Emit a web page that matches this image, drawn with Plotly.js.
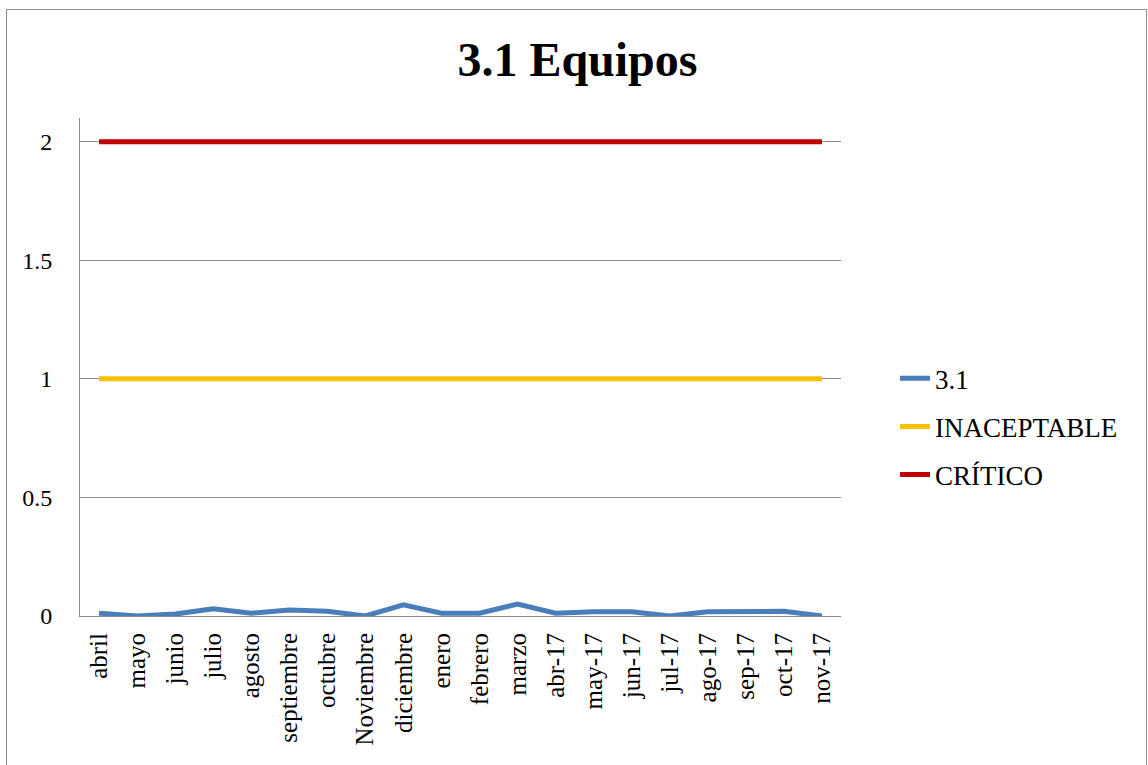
<!DOCTYPE html>
<html>
<head>
<meta charset="utf-8">
<script src="https://cdn.plot.ly/plotly-3.0.1.min.js"></script>
<style>
html,body{margin:0;padding:0;background:#fff;}
#frame{position:absolute;left:6px;top:9px;width:1141px;height:760px;border:1px solid #8c8c8c;box-sizing:border-box;}
#chart{position:absolute;left:0;top:0;width:1148px;height:765px;}
</style>
</head>
<body>
<div id="frame"></div>
<div id="chart"></div>
<script>
const categories = ["abril","mayo","junio","julio","agosto","septiembre","octubre","Noviembre","diciembre","enero","febrero","marzo","abr-17","may-17","jun-17","jul-17","ago-17","sep-17","oct-17","nov-17"];
const serie31 = [0.012,0,0.008,0.03,0.012,0.025,0.02,0,0.047,0.012,0.012,0.05,0.012,0.018,0.018,0,0.018,0.018,0.02,0];
const inaceptable = [1,1,1,1,1,1,1,1,1,1,1,1,1,1,1,1,1,1,1,1];
const critico = [2,2,2,2,2,2,2,2,2,2,2,2,2,2,2,2,2,2,2,2];
const yTicks = [0,0.5,1,1.5,2];
const yTickText = ["0","0.5","1","1.5","2"];

const font = "Liberation Serif, Times New Roman, serif";
const traces = [
  {x: categories, y: serie31, name: "3.1", legendgroup: "a", mode: "lines", line: {color: "#4a7ebb", width: 5}},
  {x: categories, y: inaceptable, name: "INACEPTABLE", legendgroup: "b", mode: "lines", line: {color: "#ffc000", width: 5}},
  {x: categories, y: critico, name: "CRÍTICO", legendgroup: "c", mode: "lines", line: {color: "#c00000", width: 5}}
];
const layout = {
  width: 1148, height: 765,
  paper_bgcolor: "rgba(0,0,0,0)", plot_bgcolor: "rgba(0,0,0,0)",
  margin: {l: 80, r: 307, t: 118, b: 149},
  font: {family: font, size: 25, color: "#000"},
  title: {text: "<b>3.1 Equipos</b>", font: {family: font, size: 48, color: "#000"}, x: 0.503, xanchor: "center", xref: "container", y: 0.922, yanchor: "middle"},
  showlegend: true,
  legend: {x: 1.071, xanchor: "left", y: 0.38, yanchor: "middle", font: {family: font, size: 27}, tracegroupgap: 10},
  xaxis: {type: "category", tickangle: -90, showgrid: false, showline: true, linecolor: "#8c8c8c", linewidth: 1, ticks: "", tickfont: {family: font, size: 25}, range: [-0.5, 19.5], zeroline: false, ticklabelstandoff: 6},
  yaxis: {range: [0, 2.1], tickvals: yTicks, ticktext: yTickText, showgrid: true, gridcolor: "#8c8c8c", gridwidth: 1, showline: true, linecolor: "#8c8c8c", linewidth: 1, ticks: "", tickfont: {family: font, size: 24}, zeroline: false, ticklabelstandoff: 22}
};
Plotly.newPlot("chart", traces, layout, {displayModeBar: false, staticPlot: true});
</script>
</body>
</html>
